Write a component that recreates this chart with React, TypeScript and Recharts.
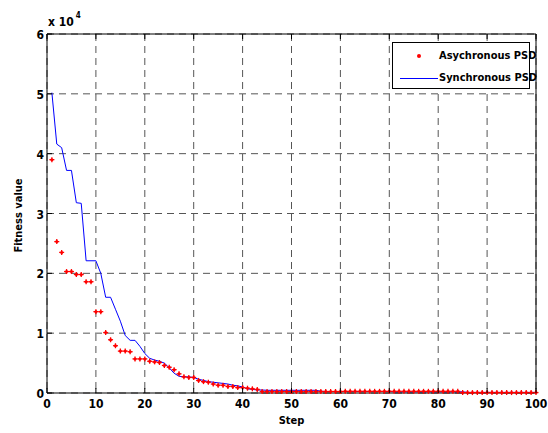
import React from "react";
import {
  CartesianGrid,
  ComposedChart,
  Line,
  Scatter,
  XAxis,
  YAxis,
} from "recharts";

// fitness values in units of 10^4, one per step (1..100)
const asyncPso = [
  3.9, 2.53, 2.35, 2.03, 2.03, 1.98, 1.98, 1.86, 1.86, 1.36,
  1.36, 1.01, 0.89, 0.79, 0.7, 0.7, 0.69, 0.57, 0.57, 0.57,
  0.53, 0.52, 0.51, 0.46, 0.43, 0.39, 0.32, 0.27, 0.26, 0.26,
  0.21, 0.19, 0.18, 0.15, 0.13, 0.13, 0.11, 0.11, 0.09, 0.09,
  0.08, 0.07, 0.06, 0.025, 0.025, 0.025, 0.025, 0.025, 0.025, 0.025,
  0.025, 0.025, 0.025, 0.025, 0.025, 0.025, 0.025, 0.025, 0.025, 0.025,
  0.028, 0.028, 0.028, 0.028, 0.028, 0.028, 0.028, 0.028, 0.028, 0.028,
  0.028, 0.028, 0.028, 0.028, 0.028, 0.028, 0.028, 0.028, 0.028, 0.028,
  0.028, 0.028, 0.028, 0.028, 0.007, 0.007, 0.007, 0.007, 0.007, 0.007,
  0.007, 0.007, 0.007, 0.007, 0.007, 0.007, 0.007, 0.007, 0.007, 0.007,
];

const syncPso = [
  5.02, 4.16, 4.1, 3.72, 3.72, 3.18, 3.17, 2.21, 2.21, 2.21,
  2.0, 1.6, 1.6, 1.4, 1.2, 0.96, 0.88, 0.88, 0.78, 0.66,
  0.58, 0.55, 0.53, 0.5, 0.42, 0.33, 0.28, 0.27, 0.27, 0.26,
  0.23, 0.21, 0.19, 0.18, 0.17, 0.16, 0.15, 0.13, 0.12, 0.1,
  0.07, 0.06, 0.05, 0.05, 0.045, 0.045, 0.045, 0.045, 0.045, 0.045,
  0.045, 0.045, 0.045, 0.045, 0.045, 0.03, 0.025, 0.025, 0.025, 0.025,
  0.025, 0.025, 0.025, 0.025, 0.025, 0.025, 0.025, 0.025, 0.025, 0.025,
  0.02, 0.02, 0.02, 0.02, 0.02, 0.02, 0.02, 0.02, 0.02, 0.02,
  0.02, 0.02, 0.02, 0.02, 0.02, 0.01, 0.01, 0.01, 0.01, 0.01,
  0.01, 0.01, 0.01, 0.01, 0.01, 0.01, 0.01, 0.01, 0.01, 0.01,
];

const xTicks = [0, 10, 20, 30, 40, 50, 60, 70, 80, 90, 100];
const yTicks = [0, 1, 2, 3, 4, 5, 6];

const FONT = "'DejaVu Sans Condensed', 'DejaVu Sans', sans-serif";
const RED = "#ff0000";
const BLUE = "#0000ff";
const TICK_LEN = 5;

const data = syncPso.map((v, i) => ({ step: i + 1, sync: v, async: asyncPso[i] }));

const svgFont = { fontFamily: FONT, fontWeight: "bold" as const, fontStretch: "condensed" };

function BottomTick({ x, y, payload }: any) {
  return (
    <g>
      <line x1={x} y1={y} x2={x} y2={y - TICK_LEN} stroke="#000" />
      <text x={x} y={y + 15} textAnchor="middle" style={svgFont} fontSize={12} fill="#000">
        {payload.value}
      </text>
    </g>
  );
}

function TopTick({ x, y }: any) {
  return <line x1={x} y1={y} x2={x} y2={y + TICK_LEN} stroke="#000" />;
}

function LeftTick({ x, y, payload }: any) {
  return (
    <g>
      <line x1={x} y1={y} x2={x + TICK_LEN} y2={y} stroke="#000" />
      <text x={x - 3} y={y + 5} textAnchor="end" style={svgFont} fontSize={12} fill="#000">
        {payload.value}
      </text>
    </g>
  );
}

function RightTick({ x, y }: any) {
  return <line x1={x} y1={y} x2={x - TICK_LEN} y2={y} stroke="#000" />;
}

function StarDot({ cx, cy }: any) {
  if (cx == null || cy == null) return null;
  return (
    <g>
      <line x1={cx - 2.5} y1={cy} x2={cx + 2.5} y2={cy} stroke={RED} strokeWidth={1.3} />
      <line x1={cx} y1={cy - 2.5} x2={cx} y2={cy + 2.5} stroke={RED} strokeWidth={1.3} />
      <circle cx={cx} cy={cy} r={1.5} fill={RED} />
    </g>
  );
}

function LegendBox() {
  const text: React.CSSProperties = {
    fontFamily: FONT,
    fontWeight: "bold",
    fontStretch: "condensed",
    fontSize: 11,
    position: "absolute",
    left: 46,
    lineHeight: "14px",
    whiteSpace: "nowrap",
  };
  return (
    <div
      style={{
        position: "absolute",
        left: 392,
        top: 42,
        width: 136,
        height: 45,
        border: "1px solid #000",
        background: "#fff",
      }}
    >
      <div style={{ position: "absolute", left: 24, top: 11, width: 4, height: 4, borderRadius: 2, background: RED }} />
      <div style={{ ...text, top: 6 }}>Asychronous PSD</div>
      <div style={{ position: "absolute", left: 7, top: 35, width: 38, height: 1, background: BLUE }} />
      <div style={{ ...text, top: 28 }}>Synchronous PSD</div>
    </div>
  );
}

export default function App() {
  return (
    <div style={{ position: "absolute", left: 0, top: 0, width: 548, height: 433, background: "#fff" }}>
      <ComposedChart width={548} height={433} data={data} margin={{ top: 0, right: 0, bottom: 0, left: 0 }}>
        <CartesianGrid stroke="#555" strokeDasharray="7 5" horizontalValues={yTicks} verticalValues={xTicks} />
        <XAxis
          dataKey="step"
          type="number"
          domain={[0, 100]}
          ticks={xTicks}
          height={40}
          tickSize={0}
          tickMargin={0}
          tickLine={false}
          axisLine={{ stroke: "#000" }}
          tick={<BottomTick />}
          interval={0}
          label={{
            content: ({ viewBox }: any) => (
              <text
                x={viewBox.x + viewBox.width / 2}
                y={viewBox.y + 31}
                textAnchor="middle"
                style={svgFont}
                fontSize={11}
              >
                Step
              </text>
            ),
          }}
        />
        <XAxis
          xAxisId="top"
          orientation="top"
          dataKey="step"
          type="number"
          domain={[0, 100]}
          ticks={xTicks}
          height={34}
          tickSize={0}
          tickMargin={0}
          tickLine={false}
          axisLine={{ stroke: "#000" }}
          tick={<TopTick />}
          interval={0}
          label={{
            content: ({ viewBox }: any) => (
              <text x={viewBox.x + 1} y={viewBox.y + 26} style={svgFont} fontSize={12}>
                x 10
                <tspan dx={2} dy={-8} fontSize={8}>
                  4
                </tspan>
              </text>
            ),
          }}
        />
        <YAxis
          type="number"
          domain={[0, 6]}
          ticks={yTicks}
          width={47}
          tickSize={0}
          tickMargin={0}
          tickLine={false}
          axisLine={{ stroke: "#000" }}
          tick={<LeftTick />}
          interval={0}
          label={{
            content: ({ viewBox }: any) => {
              const cx = viewBox.x + 22;
              const cy = viewBox.y + viewBox.height / 2 + 2;
              return (
                <text
                  x={cx}
                  y={cy}
                  transform={`rotate(-90 ${cx} ${cy})`}
                  textAnchor="middle"
                  style={svgFont}
                  fontSize={11}
                >
                  Fitness value
                </text>
              );
            },
          }}
        />
        <YAxis
          yAxisId="right"
          orientation="right"
          type="number"
          domain={[0, 6]}
          ticks={yTicks}
          width={12}
          tickSize={0}
          tickMargin={0}
          tickLine={false}
          axisLine={{ stroke: "#000" }}
          tick={<RightTick />}
          interval={0}
        />
        <Line
          dataKey="sync"
          type="linear"
          stroke={BLUE}
          strokeWidth={1}
          dot={false}
          isAnimationActive={false}
        />
        <Scatter dataKey="async" fill={RED} shape={<StarDot />} isAnimationActive={false} />
      </ComposedChart>
      <LegendBox />
    </div>
  );
}
